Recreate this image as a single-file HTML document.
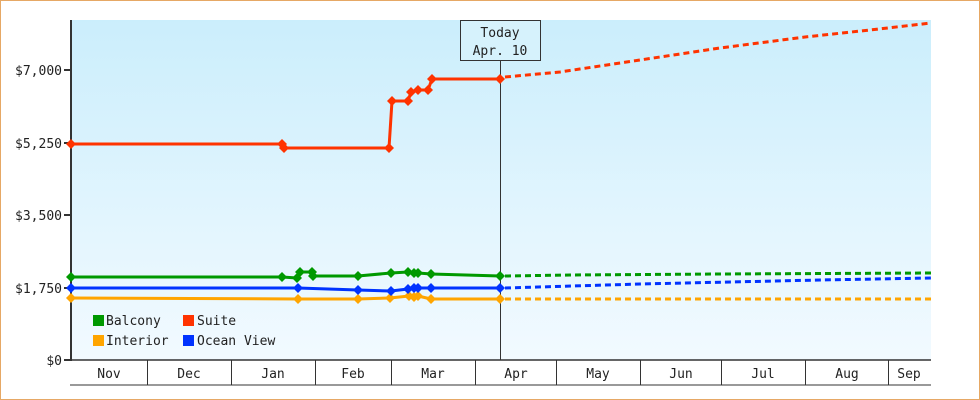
<!DOCTYPE html>
<html><head><meta charset="utf-8"><style>
html,body{margin:0;padding:0;background:#fff}
svg{display:block}
text{font-family:"DejaVu Sans Mono","Liberation Mono",monospace;font-size:13px;fill:#222}
</style></head><body>
<svg width="980" height="400" viewBox="0 0 980 400">
<defs>
<linearGradient id="bg" x1="0" y1="0" x2="0" y2="1">
<stop offset="0" stop-color="#cbeefc"/><stop offset="1" stop-color="#f2faff"/>
</linearGradient>
</defs>
<rect x="0.5" y="0.5" width="979" height="399" fill="#fff" stroke="#e6a865"/>
<rect x="71" y="20" width="860" height="340" fill="url(#bg)"/>
<!-- y axis -->
<line x1="71" y1="20" x2="71" y2="361" stroke="#333" stroke-width="2"/>
<g stroke="#333" stroke-width="2">
<line x1="64" y1="70" x2="71" y2="70"/><line x1="64" y1="143" x2="71" y2="143"/>
<line x1="64" y1="215" x2="71" y2="215"/><line x1="64" y1="288" x2="71" y2="288"/>
<line x1="64" y1="360" x2="71" y2="360"/>
</g>
<g text-anchor="end">
<text x="62" y="75">$7,000</text><text x="62" y="148">$5,250</text>
<text x="62" y="220">$3,500</text><text x="62" y="293">$1,750</text>
<text x="62" y="365">$0</text>
</g>
<!-- x axis -->
<line x1="70" y1="360" x2="931" y2="360" stroke="#333" stroke-width="1.5"/>
<line x1="70" y1="385" x2="931" y2="385" stroke="#333" stroke-width="1"/>
<g stroke="#333" stroke-width="1">
<line x1="147.5" y1="360" x2="147.5" y2="385"/><line x1="231.5" y1="360" x2="231.5" y2="385"/>
<line x1="315.5" y1="360" x2="315.5" y2="385"/><line x1="391.5" y1="360" x2="391.5" y2="385"/>
<line x1="475.5" y1="360" x2="475.5" y2="385"/><line x1="556.5" y1="360" x2="556.5" y2="385"/>
<line x1="640.5" y1="360" x2="640.5" y2="385"/><line x1="721.5" y1="360" x2="721.5" y2="385"/>
<line x1="805.5" y1="360" x2="805.5" y2="385"/><line x1="888.5" y1="360" x2="888.5" y2="385"/>
</g>
<g text-anchor="middle">
<text x="109" y="378">Nov</text><text x="189" y="378">Dec</text><text x="273" y="378">Jan</text>
<text x="353" y="378">Feb</text><text x="433" y="378">Mar</text><text x="516" y="378">Apr</text>
<text x="598" y="378">May</text><text x="681" y="378">Jun</text><text x="763" y="378">Jul</text>
<text x="847" y="378">Aug</text><text x="909" y="378">Sep</text>
</g>
<!-- today -->
<line x1="500.5" y1="60" x2="500.5" y2="360" stroke="#333" stroke-width="1"/>
<rect x="460.5" y="20.5" width="80" height="40" fill="#d6f2fc" stroke="#333"/>
<text x="500" y="37" text-anchor="middle">Today</text>
<text x="500" y="55" text-anchor="middle">Apr. 10</text>
<!-- solid series -->
<g fill="none" stroke-width="3" stroke-linejoin="round">
<polyline stroke="#ff3300" points="71,144 282,144 284,148 389,148 392,101 408,101 411,92 418,90 428,90 432,79 500,79"/>
<polyline stroke="#009900" points="71,277 282,277 297,278 300,272 312,272 313,276 358,276 391,273 408,272 414,273 418,273 431,274 500,276"/>
<polyline stroke="#ffa500" points="71,298 298,299 358,299 390,298 409,296 414,297 418,296 431,299 500,299"/>
<polyline stroke="#0033ff" points="71,288 298,288 358,290 391,291 408,289 414,288 418,288 431,288 500,288"/>
</g>
<g fill="none" stroke-width="3" stroke-dasharray="6,4">
<polyline stroke="#ff3300" points="505,77 560,72 640,60 720,48 805,37 870,30 931,23"/>
<polyline stroke="#009900" points="505,276 570,275 720,274 931,273"/>
<polyline stroke="#0033ff" points="505,288 640,284 820,280 931,278"/>
<polyline stroke="#ffa500" points="505,299 931,299"/>
</g>
<!-- markers -->
<g fill="#ff3300">
<path d="M71,139l5,5-5,5-5-5z"/><path d="M282,139l5,5-5,5-5-5z"/><path d="M284,143l5,5-5,5-5-5z"/>
<path d="M389,143l5,5-5,5-5-5z"/><path d="M392,96l5,5-5,5-5-5z"/><path d="M408,96l5,5-5,5-5-5z"/>
<path d="M411,87l5,5-5,5-5-5z"/><path d="M418,85l5,5-5,5-5-5z"/><path d="M428,85l5,5-5,5-5-5z"/>
<path d="M432,74l5,5-5,5-5-5z"/><path d="M500,74l5,5-5,5-5-5z"/>
</g>
<g fill="#009900">
<path d="M71,272l5,5-5,5-5-5z"/><path d="M282,272l5,5-5,5-5-5z"/><path d="M297,273l5,5-5,5-5-5z"/>
<path d="M300,267l5,5-5,5-5-5z"/><path d="M312,267l5,5-5,5-5-5z"/><path d="M313,271l5,5-5,5-5-5z"/>
<path d="M358,271l5,5-5,5-5-5z"/><path d="M391,268l5,5-5,5-5-5z"/><path d="M408,267l5,5-5,5-5-5z"/>
<path d="M414,268l5,5-5,5-5-5z"/><path d="M418,268l5,5-5,5-5-5z"/><path d="M431,269l5,5-5,5-5-5z"/>
<path d="M500,271l5,5-5,5-5-5z"/>
</g>
<g fill="#ffa500">
<path d="M71,293l5,5-5,5-5-5z"/><path d="M298,294l5,5-5,5-5-5z"/><path d="M358,294l5,5-5,5-5-5z"/>
<path d="M390,293l5,5-5,5-5-5z"/><path d="M409,291l5,5-5,5-5-5z"/><path d="M414,292l5,5-5,5-5-5z"/>
<path d="M418,291l5,5-5,5-5-5z"/><path d="M431,294l5,5-5,5-5-5z"/><path d="M500,294l5,5-5,5-5-5z"/>
</g>
<g fill="#0033ff">
<path d="M71,283l5,5-5,5-5-5z"/><path d="M298,283l5,5-5,5-5-5z"/><path d="M358,285l5,5-5,5-5-5z"/>
<path d="M391,286l5,5-5,5-5-5z"/><path d="M408,284l5,5-5,5-5-5z"/><path d="M414,283l5,5-5,5-5-5z"/>
<path d="M418,283l5,5-5,5-5-5z"/><path d="M431,283l5,5-5,5-5-5z"/><path d="M500,283l5,5-5,5-5-5z"/>
</g>
<!-- legend -->
<rect x="93" y="315" width="11" height="11" fill="#009900"/><text x="106" y="325">Balcony</text>
<rect x="183" y="315" width="11" height="11" fill="#ff3300"/><text x="197" y="325">Suite</text>
<rect x="93" y="335" width="11" height="11" fill="#ffa500"/><text x="106" y="345">Interior</text>
<rect x="183" y="335" width="11" height="11" fill="#0033ff"/><text x="197" y="345">Ocean View</text>
</svg>
</body></html>
